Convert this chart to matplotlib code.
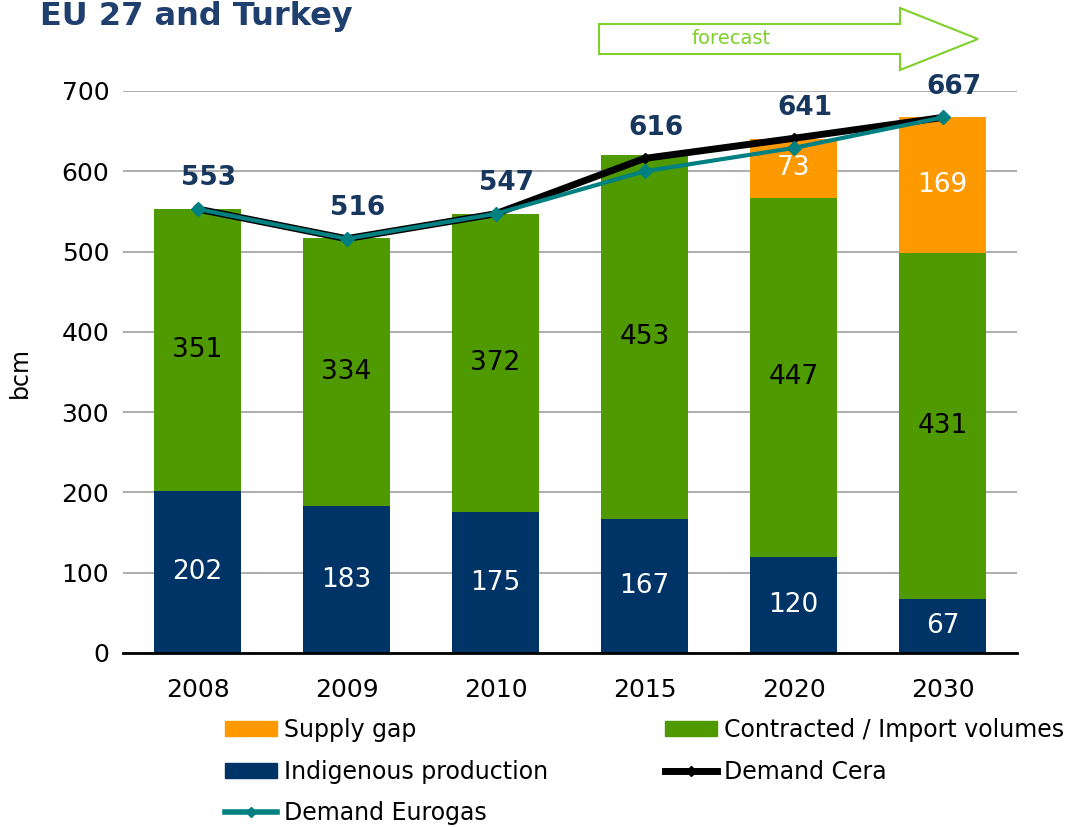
import matplotlib.pyplot as plt
import numpy as np
from matplotlib.patches import Polygon
from matplotlib.lines import Line2D
from matplotlib.patches import Patch

years = ["2008", "2009", "2010", "2015", "2020", "2030"]
indigenous = [202, 183, 175, 167, 120, 67]
contracted = [351, 334, 372, 453, 447, 431]
supply_gap = [0, 0, 0, 0, 73, 169]
demand_cera = [553, 516, 547, 616, 641, 667]
demand_eurogas = [553, 516, 547, 600, 629, 667]

c_blue = "#003366"
c_green = "#4E9A00"
c_orange = "#FF9900"
c_teal = "#008080"
c_label = "#17375E"
c_arrow = "#7FD02A"

plt.rcParams["font.family"] = ["DejaVu Sans"]

fig = plt.figure(figsize=(10.81, 8.27), dpi=100)
ax = fig.add_axes([0.1138, 0.2104, 0.827, 0.6796])

x = np.arange(len(years))
w = 0.58
ax.bar(x, indigenous, w, color=c_blue, zorder=2)
ax.bar(x, contracted, w, bottom=indigenous, color=c_green, zorder=2)
bottom2 = np.array(indigenous) + np.array(contracted)
ax.bar(x, supply_gap, w, bottom=bottom2, color=c_orange, zorder=2)

ax.plot(x, demand_cera, color="black", lw=5, marker="D", ms=5, zorder=3)
ax.plot(x, demand_eurogas, color=c_teal, lw=3, marker="D", ms=7, zorder=4)

# segment labels
for i in range(len(years)):
    ax.text(x[i], indigenous[i] / 2, str(indigenous[i]), color="white",
            ha="center", va="center", fontsize=19, zorder=5)
    ax.text(x[i], indigenous[i] + contracted[i] / 2, str(contracted[i]),
            color="black", ha="center", va="center", fontsize=19, zorder=5)
    if supply_gap[i] > 0:
        ax.text(x[i], bottom2[i] + supply_gap[i] / 2, str(supply_gap[i]),
                color="white", ha="center", va="center", fontsize=19, zorder=5)
    ax.annotate(str(demand_cera[i]), (x[i], demand_cera[i]),
                xytext=(8, 22), textcoords="offset points", ha="center",
                va="center", fontsize=19, fontweight="bold", color=c_label,
                annotation_clip=False, zorder=6)

ax.set_xlim(-0.5, 5.5)
ax.set_ylim(0, 700)
ax.set_yticks(range(0, 701, 100))
ax.set_xticks(x)
ax.set_xticklabels(years)
ax.tick_params(length=0, labelsize=18)
ax.tick_params(axis="x", pad=18)
ax.tick_params(axis="y", pad=10)
ax.yaxis.grid(True, color="#A0A0A0", lw=1.2, zorder=0)
ax.set_axisbelow(True)
for s in ["left", "right", "top"]:
    ax.spines[s].set_visible(False)
ax.spines["bottom"].set_linewidth(2)
fig.text(20 / 1081, 1 - 372 / 827, "bcm", fontsize=17, rotation=90,
         ha="center", va="center")

fig.text(40 / 1081, 1 - 16 / 827, "EU 27 and Turkey", fontsize=23,
         fontweight="bold", color="#1F3F6E", va="center", ha="left")

# forecast arrow
pts = [(599, 24), (900, 24), (900, 8), (978, 39), (900, 70), (900, 54), (599, 54)]
arrow = Polygon([(px / 1081, 1 - py / 827) for px, py in pts], closed=True,
                transform=fig.transFigure, fill=False, edgecolor=c_arrow, lw=1.5)
fig.patches.append(arrow)
fig.text(731 / 1081, 1 - 39 / 827, "forecast", color=c_arrow, fontsize=14,
         ha="center", va="center")

handles = [
    Patch(color=c_orange),
    Patch(color=c_blue),
    Line2D([], [], color=c_teal, lw=4, marker="D", ms=5),
    Patch(color=c_green),
    Line2D([], [], color="black", lw=5, marker="D", ms=5),
]
labels = ["Supply gap", "Indigenous production", "Demand Eurogas",
          "Contracted / Import volumes", "Demand Cera"]
fig.legend(handles, labels, loc="upper left", ncol=2,
           bbox_to_anchor=(213 / 1081, 1 - 706 / 827), frameon=False,
           prop={"size": 17},
           handlelength=2.2, handleheight=0.6, handletextpad=0.3,
           columnspacing=4.95, labelspacing=0.75, borderpad=0)

fig.savefig("out.png", dpi=100)
